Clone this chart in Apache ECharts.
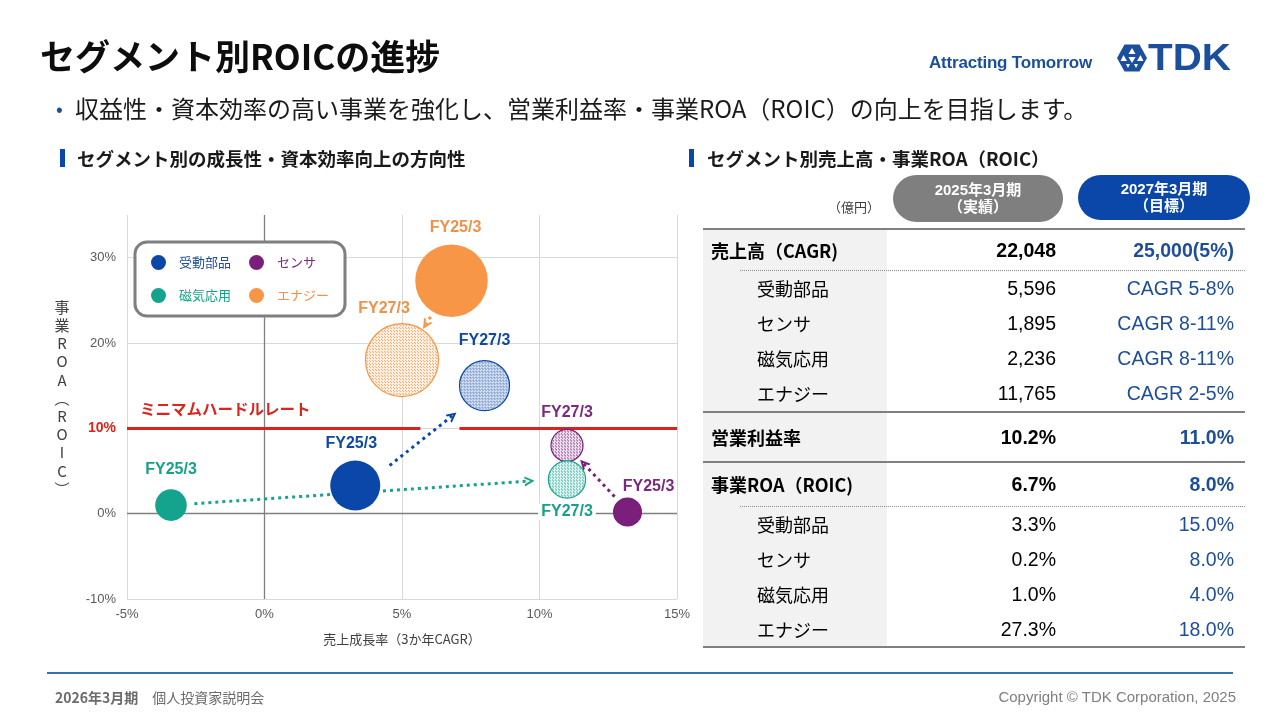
<!DOCTYPE html>
<html lang="ja">
<head>
<meta charset="utf-8">
<title>セグメント別ROICの進捗</title>
<script src="https://cdn.jsdelivr.net/npm/echarts@6.0.0/dist/echarts.min.js"></script>
<style>
html,body{margin:0;padding:0;background:#fff;}
body{width:1280px;height:719px;position:relative;overflow:hidden;font-family:"Noto Sans CJK JP","Noto Sans",sans-serif;color:#000;}
#chart{position:absolute;left:0;top:0;width:1280px;height:719px;z-index:1;}
.abs{position:absolute;white-space:nowrap;z-index:2;}
#title{left:40px;top:30px;font-size:35px;font-weight:700;line-height:50px;color:#0d0d0d;}
#tagline{left:929px;top:53px;font-family:"Liberation Sans",sans-serif;font-size:17px;font-weight:700;line-height:20px;color:#1B4F9E;letter-spacing:-0.2px;}
#logo{left:1117px;top:44px;height:28px;}
#logoText{left:1148px;top:38px;font-family:"Liberation Sans",sans-serif;font-size:36px;font-weight:900;line-height:40px;color:#1B4F9E;letter-spacing:0px;transform:scaleX(1.12);transform-origin:left center;}
#bullet{left:56px;top:91px;font-size:20px;line-height:34px;color:#1B4F9E;}
#lead{left:75px;top:91px;font-size:24px;line-height:34px;color:#1a1a1a;}
.secbar{position:absolute;width:5px;height:18px;background:#0B47A8;z-index:2;}
.sectitle{font-size:18.5px;font-weight:700;line-height:24px;color:#1a1a1a;}
.pill{position:absolute;z-index:2;color:#fff;font-weight:700;font-size:15px;line-height:17px;text-align:center;font-family:"Liberation Sans","Noto Sans CJK JP",sans-serif;}
#unit{left:828px;top:198px;font-size:13px;line-height:18px;color:#404040;}
#tbl{position:absolute;left:703px;top:229px;width:542px;z-index:2;}
.row{position:relative;width:542px;}
.cell{position:absolute;white-space:nowrap;top:0;}
.lbl{left:8px;font-size:18px;}
.lbl.sub{left:54px;}
.v1{right:189px;font-family:"Liberation Sans","Noto Sans CJK JP",sans-serif;font-size:19.5px;}
.v2{right:11px;font-family:"Liberation Sans","Noto Sans CJK JP",sans-serif;font-size:19.5px;color:#1F4E99;}
.bold{font-weight:700;}
.hline{position:absolute;left:0;width:542px;height:0;border-top:2px solid #808080;}
.dline{position:absolute;left:37px;width:505px;height:0;border-top:1px dotted #8c8c8c;}
#graycol{position:absolute;left:703px;top:229px;width:184px;height:418px;background:#F2F2F2;z-index:1;}
#footline{left:47px;top:672px;width:1186px;height:2px;background:#3C6DB4;}
#footL{left:55px;top:687px;font-size:14px;line-height:20px;color:#6b6b6b;}
#footR{right:44px;top:687px;font-family:"Liberation Sans",sans-serif;font-size:15px;line-height:20px;color:#7f7f7f;}
</style>
</head>
<body>
<div id="chart"></div>
<script>
// ---------------- DATA ----------------
const slideTitle = 'セグメント別ROICの進捗';
const leadText = '収益性・資本効率の高い事業を強化し、営業利益率・事業ROA（ROIC）の向上を目指します。';
const leftHeader = 'セグメント別の成長性・資本効率向上の方向性';
const rightHeader = 'セグメント別売上高・事業ROA（ROIC）';

const segments = ['受動部品', 'センサ', '磁気応用', 'エナジー'];
const periods = ['FY25/3', 'FY27/3'];
// sales growth (3-year CAGR, %) — x
const growthFY25 = [3.3, 13.2, -3.4, 6.8];
const growthFY27 = [8.0, 11.0, 11.0, 5.0];
// business ROA (ROIC, %) — y
const roicFY25 = [3.3, 0.2, 1.0, 27.3];
const roicFY27 = [15.0, 8.0, 4.0, 18.0];
// bubble size = sales (億円); FY27 in picture
const salesFY25 = [5596, 1895, 2236, 11765];
const salesFY27 = [5600, 2300, 3100, 11950];
// dotted arrows (from -> to), in axis units
const arrowFrom = [[4.55, 5.65], [12.73, 2.0], [-2.55, 1.17], [6.04, 23.08]];
const arrowTo   = [[6.84, 11.49], [11.6, 5.88], [9.64, 3.82], [5.86, 22.15]];

const hurdleRate = 10;
const hurdleName = 'ミニマムハードルレート';
const hurdleGap = [5.67, 7.09];

const xMin = -5, xMax = 15, xStep = 5;
const yMin = -10, yMax = 35, yStep = 10;
const xName = '売上成長率（3か年CAGR）';
const yName = '事業ROA（ROIC）';

// table
const unitLabel = '（億円）';
const colHeads = [['2025年3月期', '（実績）'], ['2027年3月期', '（目標）']];
const salesLabel = '売上高（CAGR)';
const salesTotal = ['22,048', '25,000(5%)'];
const salesSeg2025 = ['5,596', '1,895', '2,236', '11,765'];
const salesSeg2027 = ['CAGR 5-8%', 'CAGR 8-11%', 'CAGR 8-11%', 'CAGR 2-5%'];
const opMarginLabel = '営業利益率';
const opMargin = ['10.2%', '11.0%'];
const roaLabel = '事業ROA（ROIC)';
const roaTotal = ['6.7%', '8.0%'];
const roaSeg2025 = ['3.3%', '0.2%', '1.0%', '27.3%'];
const roaSeg2027 = ['15.0%', '8.0%', '4.0%', '18.0%'];

const footLeft = '2026年3月期　個人投資家説明会';
const footRight = 'Copyright © TDK Corporation, 2025';
const tagline = 'Attracting Tomorrow';
</script>

<div id="title" class="abs"></div>
<div id="tagline" class="abs"></div>
<svg id="logo" class="abs" width="30" height="28" viewBox="0 0 30 28">
  <polygon points="7.5,0.5 22.5,0.5 30,14 22.5,27.5 7.5,27.5 0,14" fill="#1B4F9E"/>
  <polygon points="15,4 18.5,10 11.5,10" fill="#fff"/>
  <polygon points="6.5,11 10,17 3.5,17" fill="#fff"/>
  <polygon points="23.5,11 26.5,17 20,17" fill="#fff"/>
  <polygon points="11.5,13 18.5,13 15,19" fill="#fff"/>
  <polygon points="9,20 13,20 11,24" fill="#fff"/>
  <polygon points="17,20 21,20 19,24" fill="#fff"/>
</svg>
<div id="logoText" class="abs">TDK</div>
<div id="bullet" class="abs">•</div>
<div id="lead" class="abs"></div>

<div class="secbar" style="left:60px;top:149px;"></div>
<div id="lh" class="abs sectitle" style="left:77px;top:146px;"></div>
<div class="secbar" style="left:689px;top:149px;"></div>
<div id="rh" class="abs sectitle" style="left:707px;top:146px;"></div>

<div id="unit" class="abs"></div>
<div id="pill1" class="pill" style="left:893px;top:175px;width:170px;height:47px;border-radius:24px;background:#7F7F7F;"><div style="padding-top:6px"></div></div>
<div id="pill2" class="pill" style="left:1078px;top:175px;width:172px;height:45px;border-radius:23px;background:#0B47A8;"><div style="padding-top:5px"></div></div>

<div id="graycol"></div>
<div id="tbl"></div>

<div id="footline" class="abs"></div>
<div id="footL" class="abs"></div>
<div id="footR" class="abs"></div>

<script>
// ---------- text / table (HTML) ----------
document.getElementById('title').textContent = slideTitle;
document.getElementById('tagline').textContent = tagline;
document.getElementById('lead').textContent = leadText;
document.getElementById('lh').textContent = leftHeader;
document.getElementById('rh').textContent = rightHeader;
document.getElementById('unit').textContent = unitLabel;
document.querySelector('#pill1 div').innerHTML = colHeads[0].join('<br>');
document.querySelector('#pill2 div').innerHTML = colHeads[1].join('<br>');
document.getElementById('footL').innerHTML = '<b>' + footLeft.split('　')[0] + '</b>　' + footLeft.split('　')[1];
document.getElementById('footR').textContent = footRight;

(function buildTable() {
  const tbl = document.getElementById('tbl');
  let y = 0;
  const parts = [];
  function line(cls) { parts.push(`<div class="${cls}" style="top:${y - 1}px"></div>`); }
  function row(h, label, a, b, main) {
    const lh = h + 'px';
    parts.push(`<div class="row" style="position:absolute;top:${y}px;height:${h}px;line-height:${lh}">` +
      `<div class="cell lbl ${main ? 'bold' : 'sub'}" style="line-height:${lh}">${label}</div>` +
      `<div class="cell v1 ${main ? 'bold' : ''}" style="line-height:${lh}">${a}</div>` +
      `<div class="cell v2 ${main ? 'bold' : ''}" style="line-height:${lh}">${b}</div></div>`);
    y += h;
  }
  line('hline');
  row(42, salesLabel, salesTotal[0], salesTotal[1], true);
  line('dline');
  segments.forEach((s, i) => row(35, s, salesSeg2025[i], salesSeg2027[i], false));
  y += 1; line('hline');
  row(50, opMarginLabel, opMargin[0], opMargin[1], true);
  line('hline');
  row(45, roaLabel, roaTotal[0], roaTotal[1], true);
  line('dline');
  segments.forEach((s, i) => row(35, s, roaSeg2025[i], roaSeg2027[i], false));
  line('hline');
  tbl.innerHTML = parts.join('');
  tbl.style.height = y + 'px';
})();

// ---------- chart (ECharts) ----------
const segColors = ['#0A47A8', '#7A1F7B', '#14A38C', '#F79646'];
const labelColors = ['#0E4BA0', '#7A2A7E', '#17A08B', '#F0914A'];
const legendTextColors = ['#1F4E99', '#7A2A7E', '#17A08B', '#F0914A'];
const hurdleColor = '#E0201B';
const sizeScale = 50 / Math.sqrt(5596);
const bubbleSize = (sales) => sizeScale * Math.sqrt(sales);

// fine dotted texture; the scatter symbol is drawn in a 2x2 unit box and scaled,
// so the pattern is scaled back to keep the dots at screen pixel size
function hexToRgba(hex, a) {
  const n = parseInt(hex.slice(1), 16);
  return `rgba(${(n >> 16) & 255},${(n >> 8) & 255},${n & 255},${a})`;
}
function dotPattern(color, size) {
  const c = document.createElement('canvas');
  c.width = 3; c.height = 3;
  const g = c.getContext('2d');
  g.fillStyle = '#ffffff'; g.fillRect(0, 0, 3, 3);
  g.fillStyle = hexToRgba(color, 0.14); g.fillRect(0, 0, 3, 3);
  g.fillStyle = hexToRgba(color, 0.85); g.fillRect(0, 0, 1, 1); g.fillRect(1, 1, 1, 1);
  const k = 2 / size;
  return { image: c, repeat: 'repeat', scaleX: k, scaleY: k };
}

// label placement per segment & period (presentation only)
const labelPlace = [
  [{ position: 'top', distance: 9, offset: [-4, 0] }, { position: 'top', distance: 11 }],
  [{ position: 'top', distance: 3, offset: [21, 0] }, { position: 'top', distance: 8 }],
  [{ position: 'top', distance: 12 }, { position: 'bottom', distance: 5, backgroundColor: '#fff', padding: [0, 3] }],
  [{ position: 'top', distance: 9, offset: [4, 0] }, { position: 'top', distance: 6, offset: [-18, 0] }]
];

const chevron = 'path://M0,9 L6,0 L12,9 L9.4,9 L6,3.8 L2.6,9 Z';

const series = [];
// zero axes
series.push({
  type: 'lines', coordinateSystem: 'cartesian2d', z: 1, silent: true,
  lineStyle: { color: '#7F7F7F', width: 1.3, opacity: 1 },
  data: [{ coords: [[0, yMin], [0, yMax]] }, { coords: [[xMin, 0], [xMax, 0]] }]
});
// hurdle rate line
series.push({
  type: 'lines', coordinateSystem: 'cartesian2d', z: 2, silent: true,
  lineStyle: { color: hurdleColor, width: 3, opacity: 1 },
  data: [
    { coords: [[xMin, hurdleRate], [hurdleGap[0], hurdleRate]],
      label: { show: true, position: 'insideStartTop', distance: [13, 11], formatter: hurdleName,
               color: '#D9261C', fontWeight: 'bold', fontSize: 15.5, fontFamily: 'Noto Sans CJK JP' } },
    { coords: [[hurdleGap[1], hurdleRate], [xMax, hurdleRate]] }
  ],
  label: { show: false }
});
// arrows
segments.forEach((s, i) => {
  series.push({
    type: 'lines', coordinateSystem: 'cartesian2d', z: 3, silent: true,
    symbol: ['none', chevron], symbolSize: [13, 10],
    lineStyle: { color: segColors[i], width: 3, type: [3, 4], opacity: 1 },
    data: [{ coords: [arrowFrom[i], arrowTo[i]] }]
  });
});
// bubbles
segments.forEach((s, i) => {
  const mk = (p) => ({
    show: true, formatter: '{b}', color: labelColors[i], fontWeight: 'bold', fontSize: 16,
    fontFamily: 'Liberation Sans', ...labelPlace[i][p]
  });
  series.push({
    type: 'scatter', name: s, z: 5,
    itemStyle: { color: segColors[i], opacity: 1 },
    symbolSize: (v) => bubbleSize(v[2]),
    data: [
      { name: periods[0], value: [growthFY25[i], roicFY25[i], salesFY25[i]], label: mk(0) },
      { name: periods[1], value: [growthFY27[i], roicFY27[i], salesFY27[i]], label: mk(1),
        itemStyle: { color: dotPattern(segColors[i], bubbleSize(salesFY27[i])), borderColor: segColors[i], borderWidth: 1.2 } }
    ],
    emphasis: { disabled: true }
  });
});

const yNameVertical = yName.replace('（', '︵').replace('）', '︶').split('').join('\n');

const option = {
  animation: false,
  textStyle: { fontFamily: '"Liberation Sans","Noto Sans CJK JP",sans-serif' },
  grid: { left: 127, right: 603, top: 215, bottom: 120 },
  xAxis: {
    type: 'value', min: xMin, max: xMax, interval: xStep,
    axisLine: { show: false }, axisTick: { show: false },
    splitLine: { show: true, lineStyle: { color: '#D9D9D9', width: 1 } },
    axisLabel: { formatter: '{value}%', color: '#595959', fontSize: 13, margin: 9 },
    name: xName, nameLocation: 'middle', nameGap: 34,
    nameTextStyle: { color: '#404040', fontSize: 13, fontFamily: 'Noto Sans CJK JP' }
  },
  yAxis: {
    type: 'value', min: yMin, max: yMax, interval: yStep,
    axisLine: { show: false }, axisTick: { show: false },
    splitLine: { show: true, showMaxLine: false, lineStyle: { color: '#D9D9D9', width: 1 } },
    axisLabel: {
      showMaxLabel: false, color: '#595959', fontSize: 13, margin: 11,
      formatter: (v) => (v === hurdleRate ? '{r|' + v + '%}' : v + '%'),
      rich: { r: { color: hurdleColor, fontWeight: 'bold', fontSize: 14 } }
    }
  },
  legend: {
    left: 135, top: 242, orient: 'horizontal', width: 185,
    padding: [13, 16, 13, 16], itemGap: 18,
    itemWidth: 15, itemHeight: 15, icon: 'circle',
    borderColor: '#7F7F7F', borderWidth: 3, borderRadius: 12, backgroundColor: '#fff',
    selectedMode: false,
    textStyle: { fontSize: 13, fontFamily: 'Noto Sans CJK JP', padding: [0, 0, 0, 8] },
    data: segments.map((s, i) => ({ name: s, textStyle: { color: legendTextColors[i] } }))
  },
  graphic: [{
    type: 'text', x: 62, y: 298, silent: true,
    style: { text: yNameVertical, align: 'center', textAlign: 'center', fontSize: 15, lineHeight: 18.2,
             fill: '#404040', fontFamily: 'Noto Sans CJK JP' }
  }],
  series: series
};

const chart = echarts.init(document.getElementById('chart'));
chart.setOption(option);
</script>
</body>
</html>
